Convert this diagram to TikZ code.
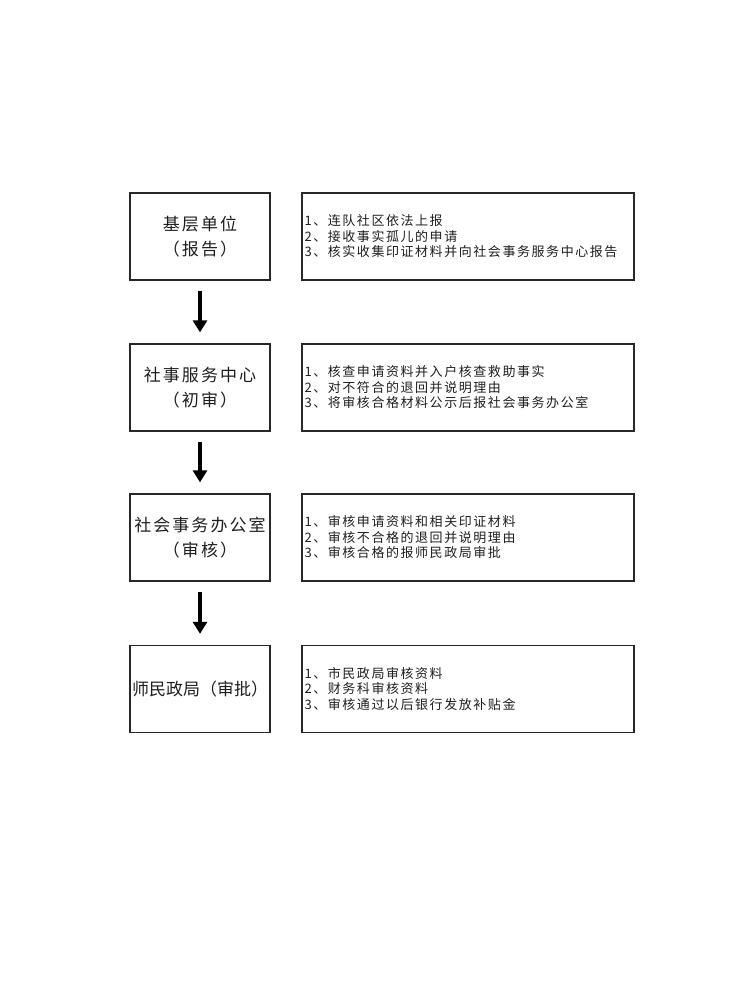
\documentclass[tikz,border=0pt]{standalone}
\usepackage{fontspec}
\setmainfont{Noto Sans CJK SC}
\newfontfamily\cjkstep[LetterSpace=12]{Noto Sans CJK SC}
\newfontfamily\cjkitem[LetterSpace=12]{Noto Sans CJK SC}
\usetikzlibrary{arrows.meta,positioning}
\definecolor{flowline}{RGB}{40,40,40}
\definecolor{flowtext}{RGB}{30,30,30}

\begin{document}
\begin{tikzpicture}[x=1pt, y=-1pt,
  stagebox/.style={draw=flowline, line width=1.3pt, minimum width=140pt, minimum height=87pt,
    align=center, text=flowtext, inner sep=0pt, font=\cjkstep\fontsize{17}{25}\selectfont},
  itembox/.style={draw=flowline, line width=1.3pt, minimum height=87pt, text width=327pt,
    align=left, text=flowtext, inner xsep=2.5pt, inner ysep=0pt, font=\cjkitem\fontsize{13}{15.5}\selectfont},
  flowarrow/.style={-{Triangle[length=12pt, width=14pt]}, line width=4pt, shorten <=10pt, shorten >=11pt}]
\useasboundingbox (0,0) rectangle (730,987);
% Stages on the left
\node[stagebox] (base) at (200,236.5) {基层单位\\（报告）};
\node[stagebox] (center) at (200,387.5) {社事服务中心\\（初审）};
\node[stagebox] (office) at (200,537.5) {社会事务办公室\\（审核）};
\node[stagebox, font=\fontsize{17}{25}\selectfont] (bureau) at (200,689) {师民政局（审批）};
% Duties on the right
\node[itembox] (baseitems) at (468,236.5) {1、连队社区依法上报\\2、接收事实孤儿的申请\\3、核实收集印证材料并向社会事务服务中心报告};
\node[itembox] (centeritems) at (468,387.5) {1、核查申请资料并入户核查救助事实\\2、对不符合的退回并说明理由\\3、将审核合格材料公示后报社会事务办公室};
\node[itembox] (officeitems) at (468,537.5) {1、审核申请资料和相关印证材料\\2、审核不合格的退回并说明理由\\3、审核合格的报师民政局审批};
\node[itembox] (bureauitems) at (468,689) {1、市民政局审核资料\\2、财务科审核资料\\3、审核通过以后银行发放补贴金};
% Arrows between stages
\draw[flowarrow] (base) -- (center);
\draw[flowarrow] (center) -- (office);
\draw[flowarrow] (office) -- (bureau);
\end{tikzpicture}
\end{document}
